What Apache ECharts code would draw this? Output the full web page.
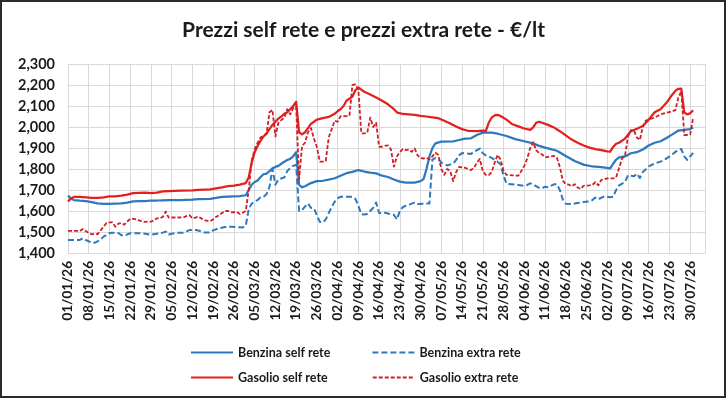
<!DOCTYPE html>
<html>
<head>
<meta charset="utf-8">
<script src="https://cdn.jsdelivr.net/npm/echarts@6/dist/echarts.min.js"></script>
<style>
  html, body { margin: 0; padding: 0; background: #fff; }
  #chart { width: 727px; height: 404px; }
</style>
</head>
<body>
<div id="chart"></div>
<script>
// Giorni dal 01/01/26 (x) e prezzi in €/lt (y)
var tickLabels = ['01/01/26', '08/01/26', '15/01/26', '22/01/26', '29/01/26', '05/02/26', '12/02/26',
    '19/02/26', '26/02/26', '05/03/26', '12/03/26', '19/03/26', '26/03/26', '02/04/26', '09/04/26',
    '16/04/26', '23/04/26', '30/04/26', '07/05/26', '14/05/26', '21/05/26', '28/05/26', '04/06/26',
    '11/06/26', '18/06/26', '25/06/26', '02/07/26', '09/07/26', '16/07/26', '23/07/26', '30/07/26']

var benzinaSelf = [[0,1.673],[1,1.660],[2,1.652],[4,1.649],[6,1.647],[8,1.642],[10,1.636],[12,1.634],[14,1.634],
    [16,1.635],[18,1.636],[20,1.640],[22,1.646],[24,1.647],[26,1.647],[28,1.650],[30,1.650],[32,1.651],[34,1.652],
    [38,1.652],[42,1.654],[44,1.657],[48,1.658],[50,1.662],[52,1.667],[54,1.669],[56,1.670],[58,1.671],[60,1.675],
    [61,1.700],[62,1.725],[63,1.738],[64,1.745],[65,1.762],[66,1.775],[67,1.778],[68,1.790],[69,1.803],[70,1.810],
    [71,1.815],[72,1.825],[73,1.835],[74,1.843],[75,1.848],[76,1.860],[77,1.880],[78,1.725],[79,1.713],[80,1.718],
    [82,1.733],[84,1.742],[86,1.744],[88,1.749],[90,1.756],[92,1.768],[94,1.780],[96,1.786],[98,1.795],[100,1.788],
    [102,1.783],[104,1.779],[106,1.768],[108,1.762],[110,1.750],[112,1.740],[114,1.735],[117,1.735],[119,1.742],
    [120,1.752],[121,1.800],[122,1.860],[123,1.900],[124,1.922],[126,1.930],[130,1.932],[132,1.938],[134,1.945],
    [136,1.946],[138,1.962],[140,1.973],[143,1.973],[145,1.968],[148,1.957],[151,1.942],[154,1.932],[157,1.922],
    [159,1.910],[161,1.902],[163,1.895],[165,1.887],[168,1.862],[171,1.838],[174,1.821],[177,1.812],[180,1.809],
    [183,1.803],[184,1.825],[185,1.845],[186,1.855],[188,1.860],[190,1.875],[192,1.880],[194,1.893],[196,1.912],
    [198,1.925],[200,1.932],[202,1.948],[204,1.965],[206,1.983],[208,1.986],[210,1.990],[211,1.998]]

var benzinaExtra = [[0,1.462],[2,1.462],[4,1.462],[5,1.470],[6,1.462],[8,1.449],[9,1.449],[10,1.455],[11,1.465],
    [12,1.478],[13,1.486],[14,1.495],[16,1.497],[17,1.495],[18,1.485],[19,1.483],[20,1.488],[21,1.494],[24,1.494],
    [26,1.492],[28,1.487],[30,1.492],[32,1.497],[33,1.502],[34,1.488],[35,1.492],[37,1.497],[39,1.497],[41,1.509],
    [43,1.509],[44,1.507],[46,1.498],[48,1.497],[49,1.508],[51,1.518],[53,1.524],[55,1.525],[57,1.523],[59,1.522],
    [60,1.530],[61,1.610],[62,1.635],[63,1.645],[64,1.652],[65,1.665],[66,1.668],[67,1.680],[68,1.715],[69,1.800],
    [70,1.725],[71,1.750],[72,1.755],[73,1.760],[74,1.790],[75,1.805],[76,1.815],[77,1.820],[78,1.600],[79,1.605],
    [80,1.621],[81,1.636],[82,1.615],[83,1.613],[84,1.580],[85,1.548],[86,1.546],[87,1.560],[88,1.590],[89,1.620],
    [90,1.644],[91,1.660],[92,1.668],[96,1.668],[97,1.658],[98,1.625],[99,1.585],[100,1.583],[101,1.586],[102,1.600],
    [103,1.615],[104,1.640],[105,1.590],[107,1.592],[108,1.588],[110,1.582],[111,1.560],[112,1.600],[113,1.618],
    [114,1.625],[115,1.629],[116,1.635],[117,1.640],[118,1.633],[122,1.636],[123,1.845],[124,1.852],[125,1.848],
    [126,1.830],[128,1.817],[130,1.826],[131,1.843],[132,1.865],[133,1.876],[136,1.872],[137,1.882],[139,1.897],
    [140,1.875],[141,1.865],[143,1.853],[145,1.835],[146,1.822],[147,1.770],[148,1.730],[152,1.724],[154,1.720],
    [155,1.724],[156,1.732],[157,1.726],[159,1.710],[160,1.708],[161,1.716],[162,1.713],[164,1.727],[165,1.727],
    [166,1.700],[167,1.655],[168,1.635],[170,1.633],[172,1.638],[174,1.643],[176,1.645],[177,1.652],[178,1.664],
    [179,1.656],[181,1.670],[183,1.665],[184,1.668],[185,1.700],[186,1.722],[188,1.738],[189,1.770],[191,1.765],
    [192,1.778],[193,1.757],[194,1.785],[196,1.812],[198,1.827],[200,1.835],[202,1.850],[204,1.870],[206,1.892],
    [207,1.895],[208,1.860],[209,1.843],[210,1.860],[211,1.877]]

var gasolioSelf = [[0,1.645],[1,1.660],[2,1.667],[4,1.667],[6,1.665],[8,1.662],[10,1.663],[12,1.665],[14,1.670],
    [16,1.670],[18,1.673],[20,1.678],[22,1.685],[24,1.686],[26,1.687],[28,1.685],[30,1.688],[32,1.693],[34,1.695],
    [38,1.697],[42,1.698],[44,1.701],[48,1.703],[50,1.708],[52,1.713],[54,1.718],[56,1.721],[58,1.726],[60,1.733],
    [61,1.760],[62,1.830],[63,1.880],[64,1.910],[65,1.935],[66,1.955],[67,1.970],[68,1.990],[69,2.010],[70,2.025],
    [71,2.040],[72,2.050],[73,2.063],[74,2.070],[75,2.085],[76,2.100],[77,2.120],[78,1.975],[79,1.965],[80,1.975],
    [81,1.995],[82,2.015],[83,2.025],[84,2.035],[86,2.042],[88,2.048],[90,2.063],[91,2.075],[92,2.085],[93,2.100],
    [94,2.125],[95,2.135],[96,2.145],[97,2.175],[98,2.188],[99,2.178],[100,2.168],[102,2.155],[104,2.140],[106,2.125],
    [108,2.108],[110,2.085],[111,2.070],[113,2.062],[115,2.060],[117,2.058],[119,2.053],[121,2.050],[123,2.046],
    [125,2.042],[127,2.030],[129,2.017],[131,2.002],[133,1.990],[135,1.982],[138,1.980],[140,1.983],[141,1.980],
    [142,2.020],[143,2.045],[144,2.055],[145,2.058],[146,2.052],[148,2.035],[150,2.013],[152,2.003],[154,1.993],
    [156,1.986],[157,1.998],[158,2.020],[159,2.025],[160,2.020],[162,2.010],[164,1.998],[166,1.980],[168,1.960],
    [170,1.940],[172,1.925],[174,1.912],[176,1.902],[178,1.895],[180,1.890],[182,1.884],[183,1.883],[184,1.905],
    [185,1.920],[186,1.925],[188,1.945],[190,1.980],[192,1.992],[194,2.005],[196,2.035],[198,2.070],[200,2.085],
    [202,2.115],[204,2.155],[205,2.172],[206,2.182],[207,2.183],[208,2.070],[209,2.060],[210,2.065],[211,2.080]]

var gasolioExtra = [[0,1.505],[2,1.505],[4,1.505],[5,1.514],[6,1.505],[7,1.495],[8,1.490],[10,1.490],[11,1.508],
    [12,1.525],[13,1.543],[14,1.546],[15,1.546],[16,1.525],[17,1.540],[18,1.543],[19,1.535],[20,1.550],[21,1.562],
    [22,1.563],[23,1.560],[24,1.555],[25,1.550],[26,1.548],[27,1.550],[28,1.549],[29,1.555],[30,1.565],[31,1.565],
    [32,1.572],[33,1.597],[34,1.568],[35,1.569],[37,1.569],[39,1.570],[40,1.576],[41,1.580],[42,1.565],[43,1.568],
    [44,1.573],[45,1.565],[46,1.557],[47,1.553],[48,1.552],[49,1.560],[50,1.572],[51,1.580],[52,1.590],[53,1.600],
    [54,1.600],[55,1.594],[56,1.594],[57,1.596],[58,1.586],[59,1.592],[60,1.600],[61,1.700],[62,1.840],[63,1.893],
    [64,1.925],[65,1.950],[66,1.960],[67,1.965],[68,2.070],[69,2.081],[70,1.955],[71,2.020],[72,2.033],[73,2.045],
    [74,2.085],[75,2.060],[76,2.090],[77,2.097],[78,1.750],[79,1.910],[80,1.925],[81,1.975],[82,1.995],[83,1.945],
    [84,1.905],[85,1.835],[86,1.835],[87,1.838],[88,1.950],[89,1.990],[90,2.030],[91,2.025],[92,2.052],[94,2.052],
    [95,2.055],[96,2.200],[97,2.203],[98,2.178],[99,1.970],[100,1.970],[101,1.972],[102,2.045],[103,2.000],[104,2.020],
    [105,1.906],[106,1.906],[107,1.910],[108,1.912],[109,1.893],[110,1.811],[111,1.860],[112,1.880],[113,1.895],
    [114,1.890],[115,1.892],[116,1.882],[117,1.898],[118,1.865],[119,1.852],[120,1.850],[121,1.853],[122,1.846],
    [123,1.860],[124,1.878],[125,1.867],[126,1.800],[127,1.772],[128,1.800],[129,1.790],[130,1.742],[131,1.785],
    [132,1.810],[133,1.808],[134,1.806],[135,1.800],[136,1.795],[137,1.805],[138,1.830],[139,1.848],[140,1.790],
    [141,1.772],[142,1.771],[143,1.785],[144,1.830],[145,1.867],[146,1.845],[147,1.790],[148,1.772],[150,1.770],
    [152,1.768],[153,1.790],[154,1.815],[155,1.850],[156,1.900],[157,1.928],[158,1.890],[159,1.876],[160,1.870],
    [161,1.855],[162,1.858],[164,1.862],[165,1.855],[166,1.810],[167,1.745],[168,1.728],[169,1.726],[170,1.718],
    [171,1.728],[172,1.712],[173,1.705],[174,1.720],[176,1.722],[177,1.724],[178,1.738],[179,1.722],[180,1.748],
    [182,1.755],[184,1.755],[185,1.760],[186,1.805],[187,1.850],[188,1.862],[189,1.955],[190,1.985],[191,1.985],
    [192,1.950],[193,1.938],[194,2.000],[195,2.030],[196,2.035],[198,2.045],[200,2.060],[202,2.068],[204,2.075],
    [205,2.080],[206,2.140],[207,2.170],[208,1.962],[209,1.962],[210,1.965],[211,2.045]]

var BLUE = '#2e78bd'
var RED = '#e3201d'
var RED_DASH = '#d01f26'
var FONT = 'Lato'

var chart = echarts.init(document.getElementById('chart'))

function line(name, data, color, width, dash) {
    return {
        name: name,
        type: 'line',
        data: data,
        showSymbol: false,
        symbol: 'none',
        animation: false,
        lineStyle: { color: color, width: width, type: dash || 'solid', join: 'round' },
        itemStyle: { color: color }
    }
}

var legendText = { fontFamily: FONT, fontWeight: 'bold', fontSize: 12.5, color: '#1a1a1a' }
// the line series legend icon draws a symbol in the middle: hide it, keep the line
var legendItem = { opacity: 0 }

chart.setOption({
    backgroundColor: '#fff',
    title: {
        text: 'Prezzi self rete e prezzi extra rete - €/lt',
        left: 'center',
        top: 15,
        textStyle: { fontFamily: FONT, fontWeight: 'bold', fontSize: 21, color: '#1a1a1a' }
    },
    legend: [{
        data: ['Benzina self rete', 'Benzina extra rete'],
        left: 190, top: 346, padding: 0,
        itemWidth: 42, itemHeight: 12, itemGap: 41,
        itemStyle: legendItem,
        textStyle: legendText
    }, {
        data: ['Gasolio self rete', 'Gasolio extra rete'],
        left: 190, top: 371, padding: 0,
        itemWidth: 42, itemHeight: 12, itemGap: 44,
        itemStyle: legendItem,
        textStyle: legendText
    }],
    grid: { left: 68, right: 22, top: 64, bottom: 151 },
    xAxis: {
        type: 'value',
        min: 0,
        max: 215,
        interval: 7,
        axisLine: { show: true, lineStyle: { color: '#d9d9d9' } },
        axisTick: { show: false },
        splitLine: { show: true, lineStyle: { color: '#d9d9d9', width: 1 } },
        axisLabel: {
            rotate: 90,
            margin: 8,
            fontFamily: FONT, fontWeight: 'bold', fontSize: 13.5, color: '#1a1a1a',
            formatter: function (v) {
                return v % 7 === 0 ? (tickLabels[v / 7] || '') : ''
            }
        }
    },
    yAxis: {
        type: 'value',
        min: 1.4,
        max: 2.3,
        interval: 0.1,
        axisLine: { show: false },
        axisTick: { show: false },
        splitLine: { lineStyle: { color: '#d9d9d9', width: 1 } },
        axisLabel: {
            margin: 13,
            fontFamily: FONT, fontWeight: 'bold', fontSize: 14.5, color: '#1a1a1a',
            formatter: function (v) { return v.toFixed(3).replace('.', ',') }
        }
    },
    series: [
        line('Benzina self rete', benzinaSelf, BLUE, 2.25),
        line('Benzina extra rete', benzinaExtra, BLUE, 2, [6, 3]),
        line('Gasolio self rete', gasolioSelf, RED, 2.25),
        line('Gasolio extra rete', gasolioExtra, RED_DASH, 1.8, [4, 2])
    ],
    graphic: [{
        type: 'rect',
        shape: { x: 1, y: 1, width: 724, height: 396 },
        style: { fill: null, stroke: '#2b2b2b', lineWidth: 2 },
        silent: true
    }]
})
</script>
</body>
</html>
